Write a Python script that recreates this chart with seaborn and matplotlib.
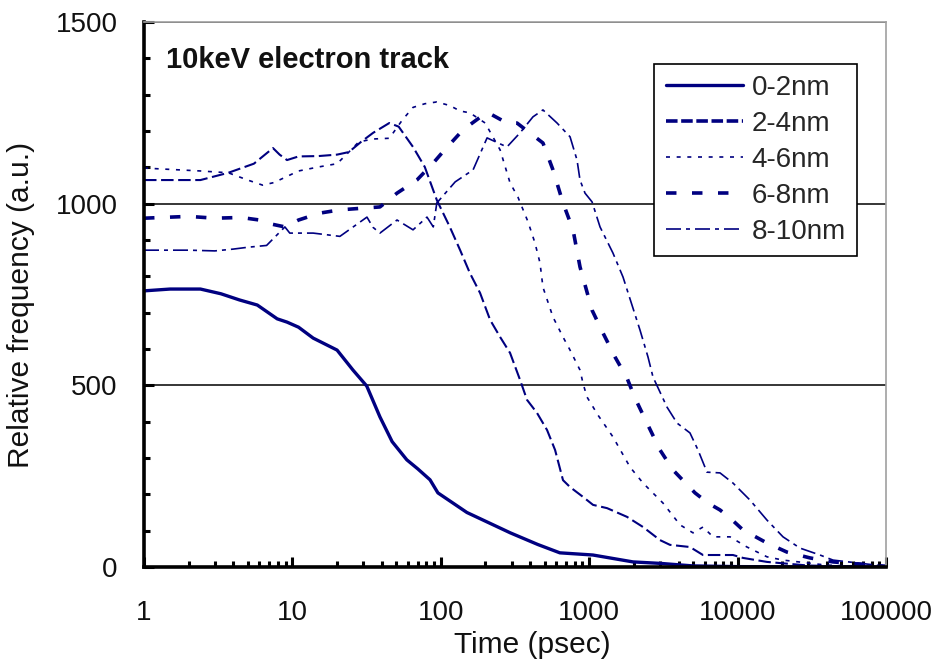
import numpy as np
import pandas as pd
import matplotlib
matplotlib.use("Agg")
import matplotlib.pyplot as plt
import seaborn as sns
from matplotlib.ticker import FixedLocator, FixedFormatter, LogLocator, NullFormatter, MultipleLocator

# values (time in psec, relative frequency in a.u.)
t_0_2 = [1, 1.5, 2.4, 3.3, 4.4, 5.8, 7.9, 9.2, 11, 13.8, 20, 25.6, 31.7, 38.9, 47, 59, 70,
         84.6, 95.6, 150, 294, 450, 634, 1059, 1974, 3000, 5000, 10000, 100000]
v_0_2 = [760, 765, 765, 752, 735, 721, 683, 674, 660, 630, 597, 542, 498, 413, 345, 295, 270,
         240, 204, 150, 94, 62, 39, 33, 14, 10, 3, 1, 0]

t_2_4 = [1, 2.4, 3.7, 5.5, 7.4, 8.2, 9.2, 11, 15, 20, 24, 29, 35, 45, 52, 65, 78, 94,
         115, 135, 157, 184, 215, 251, 293, 342, 381, 445, 520, 589, 666, 743, 908,
         1061, 1319, 1798, 2306, 3001, 3500, 4775, 5845, 9310, 10870, 15780, 30000, 100000]
v_2_4 = [1065, 1065, 1085, 1110, 1153, 1135, 1120, 1130, 1131, 1135, 1142, 1170, 1195,
         1222, 1212, 1156, 1101, 1010, 936, 872, 809, 754, 680, 633, 589, 515, 460, 424,
         377, 322, 239, 220, 193, 171, 162, 138, 110, 74, 61, 55, 33, 33, 25, 14, 4, 0]

t_4_6 = [1, 2.4, 3.7, 5, 6.3, 7.5, 9.2, 11, 15, 20, 24, 28, 35, 45, 55, 65, 78, 94, 115,
         135, 157, 199, 251, 293, 331, 387, 431, 466, 488, 570, 666, 743, 867, 908, 966,
         1146, 1446, 1884, 2306, 3142, 4093, 5006, 5845, 6830, 8890, 11570, 15780, 20230,
         40000, 100000]
v_4_6 = [1098, 1090, 1085, 1065, 1051, 1058, 1075, 1090, 1101, 1110, 1142, 1170, 1178,
         1180, 1230, 1265, 1275, 1280, 1270, 1255, 1250, 1222, 1148, 1057, 1018, 950, 892,
         837, 770, 688, 633, 597, 542, 506, 468, 418, 358, 275, 231, 176, 116, 94, 110, 83,
         83, 55, 28, 19, 5, 0]

t_6_8 = [1, 2, 3, 4.5, 6, 7, 8.9, 11, 15.3, 20.9, 38.9, 50.7, 69, 89, 103, 141, 205, 279,
         326, 488, 570, 666, 778, 867, 1045, 1239, 1493, 1798, 2036, 2451, 3001, 3670,
         5165, 6320, 7610, 8890, 10870, 15780, 21520, 30740, 43950, 100000]
v_6_8 = [960, 965, 960, 962, 955, 945, 936, 955, 974, 983, 991, 1029, 1065, 1112, 1142,
         1203, 1252, 1222, 1222, 1167, 1093, 1002, 928, 826, 707, 644, 578, 520, 465, 396,
         322, 267, 204, 176, 157, 135, 102, 66, 41, 25, 14, 2]

t_8_10 = [1, 2, 3, 4, 5, 6.7, 8.9, 9.6, 13.8, 20.9, 31.8, 34.9, 38.9, 50.7, 65, 80.7, 89,
          94, 125, 165, 205, 279, 342, 418, 488, 607, 743, 828, 867, 937, 1045, 1183, 1446,
          1690, 2200, 2490, 2690, 3345, 3910, 4775, 5410, 6220, 7610, 9310, 12130, 15780,
          20230, 26330, 35890, 43950, 100000]
v_8_10 = [872, 872, 870, 875, 880, 885, 936, 919, 919, 910, 963, 935, 919, 955, 928, 963,
          936, 1002, 1060, 1093, 1181, 1156, 1195, 1239, 1258, 1222, 1184, 1120, 1065, 1029,
          1005, 936, 864, 798, 652, 578, 523, 440, 396, 369, 322, 261, 259, 231, 184, 129,
          83, 52, 33, 19, 2]

labels = ["0-2nm", "2-4nm", "4-6nm", "6-8nm", "8-10nm"]
series = [(t_0_2, v_0_2), (t_2_4, v_2_4), (t_4_6, v_4_6), (t_6_8, v_6_8), (t_8_10, v_8_10)]
styles = [
    dict(linestyle="-", linewidth=2.4),
    dict(linestyle=(0, (6, 2.2)), linewidth=1.5),
    dict(linestyle=(0, (2.4, 4)), linewidth=1.2),
    dict(linestyle=(0, (2.9, 4.3)), linewidth=2.6),
    dict(linestyle=(0, (9, 3, 2.4, 3)), linewidth=1.2),
]
x_ticks = [1, 10, 100, 1000, 10000, 100000]
x_ticklabels = ["1", "10", "100", "1000", "10000", "100000"]
y_ticks = [0, 500, 1000, 1500]

sns.set_theme(style="white")
plt.rcParams["font.family"] = ["Liberation Sans", "DejaVu Sans"]
navy = "#000080"

fig = plt.figure(figsize=(9.36, 6.63), dpi=100)
ax = fig.add_axes([144 / 936, 96 / 663, 742 / 936, 545 / 663])

for (t, v), lab, st in zip(series, labels, styles):
    df = pd.DataFrame({"t": t, "v": v})
    sns.lineplot(data=df, x="t", y="v", ax=ax, color=navy, label=lab, **st)

ax.set_xscale("log")
ax.set_xlim(1, 100000)
ax.set_ylim(0, 1500)

ax.xaxis.set_major_locator(FixedLocator(x_ticks))
ax.xaxis.set_major_formatter(FixedFormatter(x_ticklabels))
ax.xaxis.set_minor_locator(LogLocator(base=10, subs=np.arange(2, 10)))
ax.xaxis.set_minor_formatter(NullFormatter())
ax.yaxis.set_major_locator(FixedLocator(y_ticks))
ax.yaxis.set_minor_locator(MultipleLocator(100))

ax.tick_params(axis="both", which="both", bottom=True, left=True, top=False, right=False)
ax.tick_params(axis="both", which="major", direction="in", length=7, width=2.2,
               color="black", labelsize=20, labelcolor="#111111")
ax.tick_params(axis="both", which="minor", direction="in", length=4.5, width=2.2, color="black")
ax.tick_params(axis="x", which="major", pad=24)
ax.tick_params(axis="y", which="major", pad=19)

ax.yaxis.grid(True, which="major", color="black", linewidth=1.1)
ax.xaxis.grid(False)

for side in ["left", "bottom"]:
    ax.spines[side].set_color("black")
    ax.spines[side].set_linewidth(2.6)
for side in ["top", "right"]:
    ax.spines[side].set_color("#a0a0a0")
    ax.spines[side].set_linewidth(1.2)

ax.set_xlabel("Time (psec)", fontsize=21.5, color="#111111")
ax.set_ylabel("Relative frequency (a.u.)", fontsize=21.5, color="#111111")
ax.xaxis.set_label_coords(0.523, -0.118)
ax.yaxis.set_label_coords(-0.147, 0.481)

ax.text(0.030, 0.930, "10keV electron track", transform=ax.transAxes,
        fontsize=21, fontweight="bold", va="center", ha="left", color="#111111")

leg = ax.legend(loc="upper right", bbox_to_anchor=(0.961, 0.923), borderaxespad=0,
                fontsize=20, frameon=True, fancybox=False, edgecolor="black",
                handlelength=2.8, handletextpad=0.3, labelspacing=0.36, borderpad=0.4)
leg.get_frame().set_linewidth(1.2)
leg.get_frame().set_alpha(1)
leg_lines = leg.get_lines()
leg_lines[1].set_linewidth(2.6)
leg_lines[1].set_linestyle((0, (3.2, 1.0)))

fig.savefig("out.png", dpi=100)
